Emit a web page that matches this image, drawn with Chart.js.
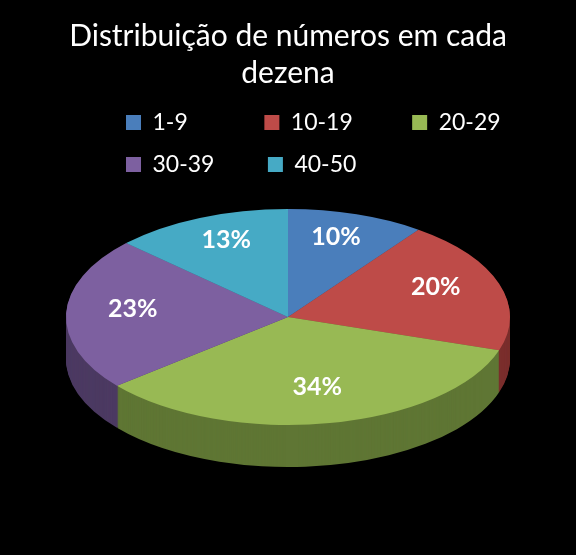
<!DOCTYPE html>
<html>
<head>
<meta charset="utf-8">
<script src="https://cdn.jsdelivr.net/npm/chart.js@4"></script>
<style>
  html, body { margin: 0; padding: 0; background: #000; }
  #wrap { width: 576px; height: 555px; }
</style>
</head>
<body>
<div id="wrap"><canvas id="chart"></canvas></div>
<script>
// Chart data
const titleLines = ['Distribuição de números em cada', 'dezena'];
const categories = ['1-9', '10-19', '20-29', '30-39', '40-50'];
const shares = [10, 20, 34, 23, 13];
const topColors = ['#4a7ebb', '#be4b48', '#98b954', '#7d60a0', '#46aac5'];
const sideColors = ['#2c4d74', '#7a2e2c', '#5f7634', '#4c3a62', '#2a6a7b'];

// where the tilted pie sits
const face = { x: 288, y: 317, rx: 222, ry: 108, depth: 42 };

/**
 * Title drawn centred on the whole canvas.
 */
const centredTitle = {
  id: 'centredTitle',
  afterDraw(chart) {
    const ctx = chart.ctx;
    ctx.save();
    ctx.fillStyle = '#fff';
    ctx.font = '30px Lato';
    ctx.textAlign = 'center';
    ctx.textBaseline = 'middle';
    titleLines.forEach((line, i) => ctx.fillText(line, 288, 36 + i * 37));
    ctx.restore();
  },
};

/**
 * Draw the pie as a tilted disc with some thickness.
 */
const tiltedPie = {
  id: 'tiltedPie',
  beforeDatasetsDraw(chart) {
    const ctx = chart.ctx;
    const arcs = chart.getDatasetMeta(0).data;
    const { x, y, outerRadius: r } = arcs[0];

    const toFace = (dy) => {
      ctx.translate(face.x, face.y + dy);
      ctx.scale(face.rx / r, face.ry / r);
      ctx.translate(-x, -y);
    };

    // side walls, stacked from the bottom up
    for (let d = face.depth; d > 0; d -= 1) {
      ctx.save();
      toFace(d);
      arcs.forEach((arc, i) => {
        ctx.beginPath();
        ctx.moveTo(x, y);
        ctx.arc(x, y, r, arc.startAngle, arc.endAngle);
        ctx.closePath();
        ctx.fillStyle = sideColors[i];
        ctx.fill();
      });
      ctx.restore();
    }

    // top face
    ctx.save();
    toFace(0);
    arcs.forEach((arc) => arc.draw(ctx));
    ctx.restore();

    // percent labels
    ctx.save();
    ctx.fillStyle = '#fff';
    ctx.font = 'bold 25px Lato';
    ctx.textAlign = 'center';
    ctx.textBaseline = 'middle';
    const total = shares.reduce((a, b) => a + b, 0);
    arcs.forEach((arc, i) => {
      const mid = (arc.startAngle + arc.endAngle) / 2;
      const lx = face.x + Math.cos(mid) * face.rx * 0.7;
      const ly = face.y + Math.sin(mid) * face.ry * 0.72 - 6;
      ctx.fillText(Math.round(shares[i] / total * 100) + '%', lx, ly);
    });
    ctx.restore();
    return false;
  },
};

// trailing space so the legend falls into columns
const legendPad = ['\u2003\u2003\u2003 ', '\u2003\u2003 ', '', '\u2003\u2003', ''];

new Chart(document.getElementById('chart'), {
  type: 'pie',
  data: {
    labels: categories,
    datasets: [{
      data: shares,
      backgroundColor: topColors,
      borderWidth: 0,
    }],
  },
  options: {
    responsive: true,
    maintainAspectRatio: false,
    animation: false,
    layout: { padding: { left: 107, right: 20, top: 92, bottom: 20 } },
    plugins: {
      title: { display: false },
      legend: {
        position: 'top',
        align: 'start',
        labels: {
          color: '#fff',
          font: { family: 'Lato', size: 23 },
          boxWidth: 15,
          boxHeight: 15,
          padding: 19,
          generateLabels() {
            return categories.map((c, i) => ({
              text: c + legendPad[i],
              fillStyle: topColors[i],
              strokeStyle: topColors[i],
              fontColor: '#fff',
              lineWidth: 0,
              index: i,
            }));
          },
        },
      },
      tooltip: { enabled: false },
    },
  },
  plugins: [tiltedPie, centredTitle],
});
</script>
</body>
</html>
